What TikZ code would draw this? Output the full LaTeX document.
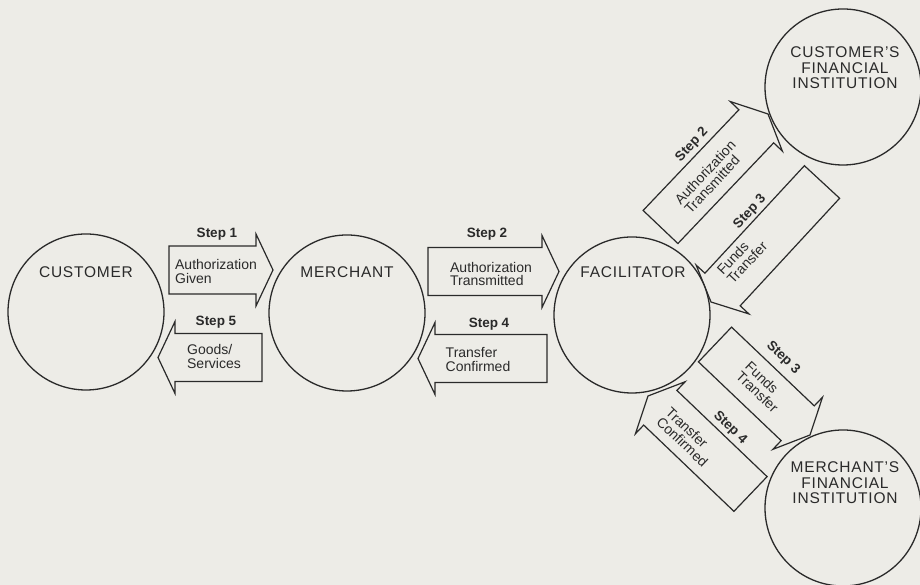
\documentclass[tikz,border=0pt]{standalone}
\usepackage{fontspec}
\setmainfont{Liberation Sans}
\usetikzlibrary{calc}

\definecolor{paper}{RGB}{237,236,231}
\definecolor{ink}{RGB}{42,42,42}

\tikzset{
  party/.style={circle, draw=ink, line width=1.3pt, fill=paper,
    minimum size=156pt, inner sep=0pt},
  partyname/.style={text=ink, align=center,
    font=\fontsize{15.5}{15.5}\selectfont\addfontfeatures{LetterSpace=5}},
  steplbl/.style={text=ink, font=\fontsize{13.5}{13.5}\selectfont\bfseries},
  flowtxt/.style={text=ink, align=left, inner sep=0pt,
    font=\fontsize{14}{13.5}\selectfont},
  % fat arrow from start (tail middle) to target (tip)
  block/.style={draw=ink, line width=1.2pt, fill=paper, to path={
    ($(\tikztostart)!24pt!90:(\tikztotarget)$)
    -- ($($(\tikztotarget)!17pt!(\tikztostart)$)!24pt!90:(\tikztotarget)$)
    -- ($($(\tikztotarget)!17pt!(\tikztostart)$)!36pt!90:(\tikztotarget)$)
    -- (\tikztotarget)
    -- ($($(\tikztotarget)!17pt!(\tikztostart)$)!36pt!-90:(\tikztotarget)$)
    -- ($($(\tikztotarget)!17pt!(\tikztostart)$)!24pt!-90:(\tikztotarget)$)
    -- ($(\tikztostart)!24pt!-90:(\tikztotarget)$) -- cycle}},
}

\begin{document}
\begin{tikzpicture}[x=1pt,y=1pt]
	% paper
	\fill[paper] (0,0) rectangle (920,585);
	\useasboundingbox (0,0) rectangle (920,585);
	
	% arrow ends
	\coordinate (s1from) at (169,315);   \coordinate (s1to) at (273,315);
	\coordinate (s5from) at (262,227.5); \coordinate (s5to) at (158,227.5);
	\coordinate (s2from) at (428,313.5); \coordinate (s2to) at (559,313.5);
	\coordinate (s4from) at (547,226.5); \coordinate (s4to) at (418,226.5);
	\coordinate (c2from) at (660.5,358); \coordinate (c2to) at (768,471);
	\coordinate (c3from) at (822,403);   \coordinate (c3to) at (711,283);
	\coordinate (m3from) at (715,240.5); \coordinate (m3to) at (810,150);
	\coordinate (m4from) at (750.5,91);  \coordinate (m4to) at (648,189);
	
	% arrows
	\draw[block] (s1from) to (s1to);
	\draw[block] (s5from) to (s5to);
	\draw[block] (s2from) to (s2to);
	\draw[block] (s4from) to (s4to);
	\draw[block] (c2from) to (c2to);
	\draw[block] (c3from) to (c3to);
	\draw[block] (m3from) to (m3to);
	\draw[block] (m4from) to (m4to);
	
	% parties
	\node[party] (cust) at (86,273) {};
	\node[party] (merch) at (347,272) {};
	\node[party] (facil) at (632,270) {};
	\node[party] (custfi) at (843,498) {};
	\node[party] (merchfi) at (843,77) {};
	
	\node[partyname] (custname) at (86,313) {CUSTOMER};
	\node[partyname] (merchname) at (347,313) {MERCHANT};
	\node[partyname] (facilname) at (633,313) {FACILITATOR};
	\node[partyname] (custfiname) at (845,517) {CUSTOMER'S\\FINANCIAL\\INSTITUTION};
	\node[partyname] (merchfiname) at (845,102) {MERCHANT'S\\FINANCIAL\\INSTITUTION};
	
	% step labels
	\node[steplbl] (l1) at (217,351) {Step 1};
	\node[steplbl] (l5) at (216,263) {Step 5};
	\node[steplbl] (l2) at (487,351) {Step 2};
	\node[steplbl] (l4) at (489,261) {Step 4};
	\node[steplbl, rotate=47] (lc2) at (692,440) {Step 2};
	\node[steplbl, rotate=47] (lc3) at (750,373) {Step 3};
	\node[steplbl, rotate=-43.5] (lm3) at (783,227) {Step 3};
	\node[steplbl, rotate=-43.5] (lm4) at (730,157) {Step 4};
	
	% arrow texts
	\node[flowtxt] (t1) at (216,313.5) {Authorization\\Given};
	\node[flowtxt] (t5) at (214,228.5) {Goods/\\Services};
	\node[flowtxt] (t2) at (491,311) {Authorization\\Transmitted};
	\node[flowtxt] (t4) at (478,225.5) {Transfer\\Confirmed};
	\node[flowtxt, rotate=47] (tc2) at (710,408) {Authorization\\Transmitted};
	\node[flowtxt, rotate=47] (tc3) at (742,327) {Funds\\Transfer};
	\node[flowtxt, rotate=-43.5] (tm3) at (762,198) {Funds\\Transfer};
	\node[flowtxt, rotate=-43.5] (tm4) at (687,148) {Transfer\\Confirmed};
\end{tikzpicture}
\end{document}
